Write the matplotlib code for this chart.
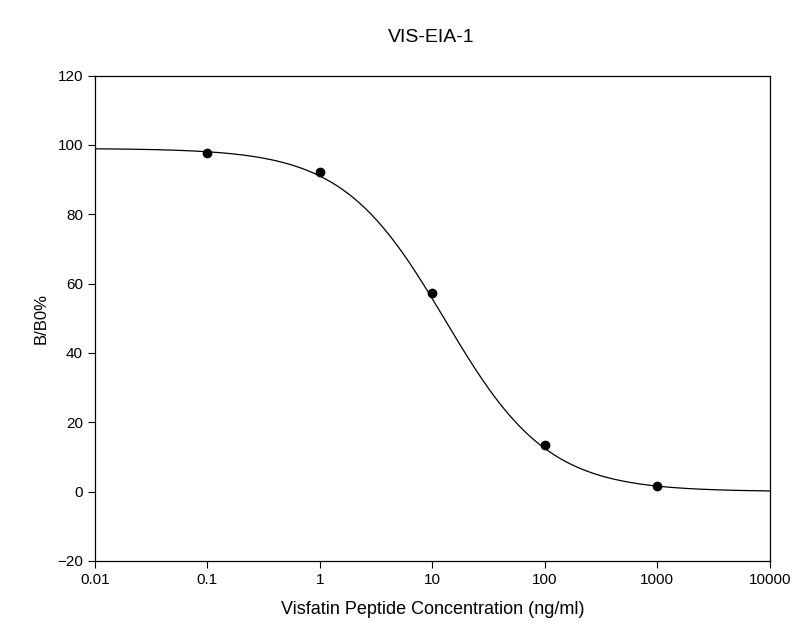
import matplotlib.pyplot as plt
import numpy as np
from matplotlib.ticker import FixedLocator, NullLocator

# measured standards
conc = [0.1, 1, 10, 100, 1000]
b_b0 = [97.8, 92.2, 57.3, 13.5, 1.5]

# 4-parameter logistic fit shown by the line
top, bottom, ec50, hill = 99.0, 0.0, 13.0, 0.95

xticks = [0.01, 0.1, 1, 10, 100, 1000, 10000]
xlabels = ["0.01", "0.1", "1", "10", "100", "1000", "10000"]
yticks = [-20, 0, 20, 40, 60, 80, 100, 120]

plt.rcParams['font.family'] = ['Liberation Sans', 'DejaVu Sans']

fig = plt.figure(figsize=(8.11, 6.41), dpi=100)
ax = fig.add_axes([0.117, 0.125, 0.832, 0.757])

xs = np.logspace(-2, 4, 400)
ys = bottom + (top - bottom) / (1 + (xs / ec50) ** hill)
ax.plot(xs, ys, color='black', linewidth=0.9)
ax.plot(conc, b_b0, 'o', color='black', markersize=6)

ax.set_xscale('log')
ax.set_xlim(0.01, 10000)
ax.set_ylim(-20, 120)
ax.xaxis.set_major_locator(FixedLocator(xticks))
ax.xaxis.set_minor_locator(NullLocator())
ax.set_xticklabels(xlabels)
ax.set_yticks(yticks)
ax.tick_params(direction='out', labelsize=11, length=5)
for s in ax.spines.values():
    s.set_linewidth(0.9)

ax.set_xlabel("Visfatin Peptide Concentration (ng/ml)", fontsize=13, labelpad=10)
ax.set_ylabel("B/B0%", fontsize=12, labelpad=6)
fig.text(0.532, 0.935, "VIS-EIA-1", ha='center', fontsize=14)

fig.savefig("out.png", dpi=100)
